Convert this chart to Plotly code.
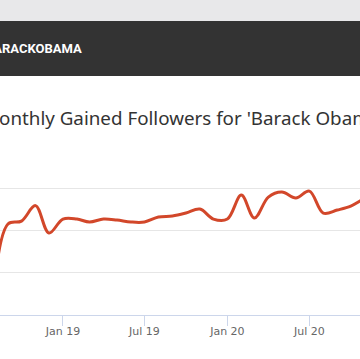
import plotly.graph_objects as go

# Monthly gained followers (thousands)
months = ["2018-08-01", "2018-09-01", "2018-10-01", "2018-11-01", "2018-12-01",
          "2019-01-01", "2019-02-01", "2019-03-01", "2019-04-01", "2019-05-01",
          "2019-06-01", "2019-07-01", "2019-08-01", "2019-09-01", "2019-10-01",
          "2019-11-01", "2019-12-01", "2020-01-01", "2020-02-01", "2020-03-01",
          "2020-04-01", "2020-05-01", "2020-06-01", "2020-07-01", "2020-08-01",
          "2020-09-01", "2020-10-01", "2020-11-01"]
gained = [320, 1077, 1112, 1295, 970,
          1136, 1136, 1101, 1136, 1124,
          1101, 1101, 1160, 1172, 1207,
          1254, 1136, 1136, 1420, 1148,
          1396, 1456, 1385, 1467, 1207,
          1243, 1290, 1385]

title_text = "Monthly Gained Followers for 'Barack Obama' (@BarackObama)"
header_text = "BARACKOBAMA"

W, H = 360, 359
plot_top, plot_bottom = 146, 315
ph = plot_bottom - plot_top

def py(p):
    return (plot_bottom - p) / ph

fig = go.Figure()
fig.add_trace(go.Scatter(
    x=months, y=gained, mode="lines",
    line=dict(color="#d2472a", width=3, shape="spline", smoothing=1.0),
    hoverinfo="skip", showlegend=False,
))

fig.update_layout(
    width=W, height=H,
    margin=dict(l=0, r=0, t=plot_top, b=H - plot_bottom, pad=0),
    paper_bgcolor="#ffffff", plot_bgcolor="#ffffff",
    font=dict(family="DejaVu Sans", color="#666666", size=11),
    xaxis=dict(
        range=["2018-08-14 07:00", "2020-10-21 10:00"],
        tick0="2019-01-01", dtick="M6", tickformat="%b %y",
        showgrid=False, showline=True, linecolor="#ccd6eb", linewidth=1,
        ticks="outside", ticklen=10, tickcolor="#ccd6eb", tickwidth=1,
        tickfont=dict(size=11, color="#666666"),
        ticklabelstandoff=-4,
        zeroline=False,
    ),
    yaxis=dict(
        range=[0, 2001], dtick=500, showticklabels=False,
        showgrid=True, gridcolor="#e6e6e6", gridwidth=1,
        zeroline=False, showline=False,
    ),
    shapes=[
        dict(type="rect", xref="paper", yref="paper", x0=-0.1, x1=1.1,
             y0=py(21), y1=py(-5), fillcolor="#e8e8ea", line=dict(width=0), layer="below"),
        dict(type="rect", xref="paper", yref="paper", x0=-0.1, x1=1.1,
             y0=py(76), y1=py(21), fillcolor="#333333", line=dict(width=0), layer="below"),
    ],
    annotations=[
        dict(text="<b>" + header_text + "</b>", xref="paper", yref="paper",
             x=-17 / W, y=py(48.5), xanchor="left", yanchor="middle", showarrow=False,
             font=dict(family="Roboto", size=13, color="#ffffff")),
        dict(text=title_text, xref="paper", yref="paper",
             x=-19.8 / W, y=py(118.5), xanchor="left", yanchor="middle", showarrow=False,
             font=dict(family="Noto Sans", size=18.8, color="#333333")),
    ],
)

fig.write_html("out.html", config={"displayModeBar": False},
               post_script="document.body.style.margin='0';")
